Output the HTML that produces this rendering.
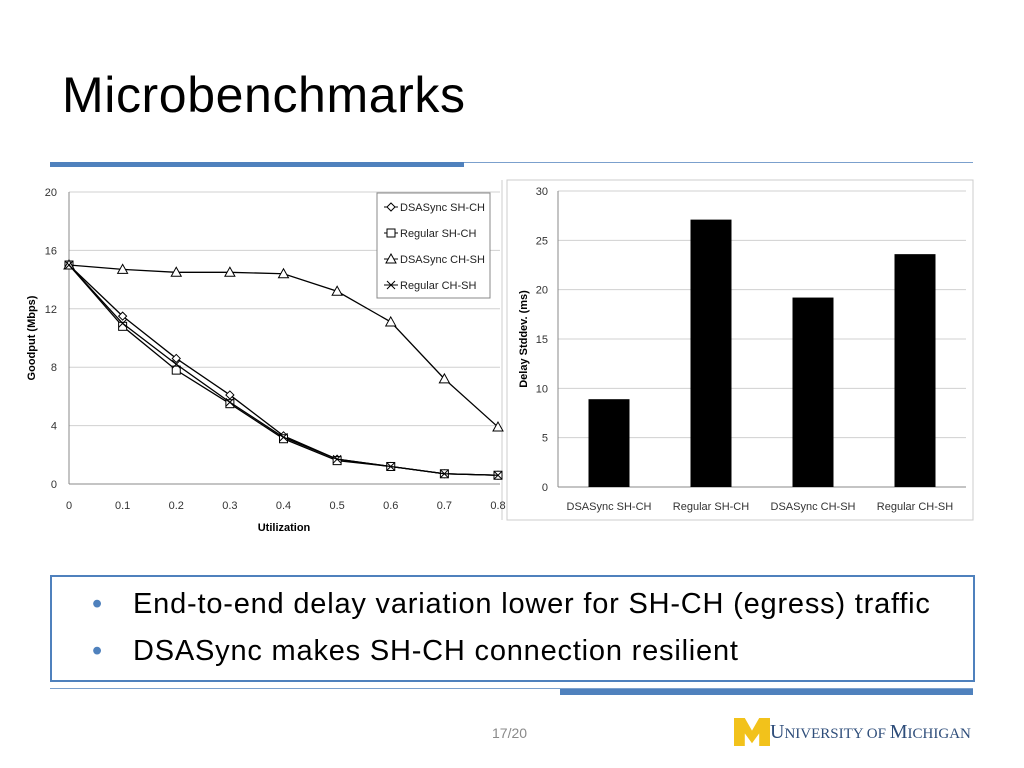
<!DOCTYPE html>
<html><head><meta charset="utf-8"><style>
body{margin:0;width:1024px;height:768px;background:#fff;position:relative;overflow:hidden;font-family:"Liberation Sans",sans-serif}
.abs{position:absolute}
</style></head><body>
<div class="abs" style="left:62px;top:66px;font-size:50px;letter-spacing:0.6px;color:#000">Microbenchmarks</div>
<div class="abs" style="left:50px;top:162px;width:414px;height:5px;background:#4f81bd"></div>
<div class="abs" style="left:464px;top:162px;width:509px;height:1px;background:#7ba0cd"></div>

<svg class="abs" style="left:0;top:0" width="1024" height="768">
<g id="left"></g>
<g id="right"></g>
</svg>

<div class="abs" style="left:50px;top:575px;width:921px;height:103px;border:2px solid #4f81bd;font-size:29px;letter-spacing:0.8px;color:#000">
<div style="position:absolute;left:40px;top:11px"><span style="color:#4f81bd;display:inline-block;width:41px">•</span>End-to-end delay variation lower for SH-CH (egress) traffic</div>
<div style="position:absolute;left:40px;top:58px"><span style="color:#4f81bd;display:inline-block;width:41px">•</span>DSASync makes SH-CH connection resilient</div>
</div>
<div class="abs" style="left:50px;top:688px;width:923px;height:1px;background:#7ba0cd"></div>
<div class="abs" style="left:560px;top:689px;width:413px;height:6px;background:#4f81bd"></div>
<div class="abs" style="left:492px;top:725px;font-size:14px;color:#8a8a8a">17/20</div>
<div class="abs" style="left:734px;top:716px;height:30px;display:flex;align-items:flex-end">
<span style="display:inline-block;width:36px;height:28px;background:#f2c21b;clip-path:polygon(0 0,30% 0,50% 45%,70% 0,100% 0,100% 100%,70% 100%,70% 55%,50% 90%,30% 55%,30% 100%,0 100%)"></span>
<span style="font-family:'Liberation Serif',serif;color:#2e4d7a;font-size:20px;line-height:24px">U<span style="font-size:15px">NIVERSITY OF </span>M<span style="font-size:15px">ICHIGAN</span></span></div>

<script>
const xVals=[0,0.1,0.2,0.3,0.4,0.5,0.6,0.7,0.8];
const xTicks=["0","0.1","0.2","0.3","0.4","0.5","0.6","0.7","0.8"];
const yTicks=[0,4,8,12,16,20];
const dsaShCh=[15,11.5,8.6,6.1,3.3,1.7,1.2,0.7,0.6];
const regShCh=[15,10.8,7.8,5.5,3.1,1.6,1.2,0.7,0.6];
const dsaChSh=[15,14.7,14.5,14.5,14.4,13.2,11.1,7.2,3.9];
const regChSh=[15,11.0,8.2,5.6,3.2,1.7,1.2,0.7,0.6];
const seriesNames=["DSASync SH-CH","Regular SH-CH","DSASync CH-SH","Regular CH-SH"];
const barCats=["DSASync SH-CH","Regular SH-CH","DSASync CH-SH","Regular CH-SH"];
const barVals=[8.9,27.1,19.2,23.6];
const barTicks=[0,5,10,15,20,25,30];

const NS="http://www.w3.org/2000/svg";
function mk(p,t,a,txt){const e=document.createElementNS(NS,t);for(const k in a)e.setAttribute(k,a[k]);if(txt!==undefined)e.textContent=txt;p.appendChild(e);return e;}
const L=document.getElementById('left');
const X=v=>69+v/0.8*429, Y=v=>484-v/20*292;
yTicks.forEach(t=>{
 if(t>0){const g=mk(L,'line',{x1:69,x2:500,y1:Y(t),y2:Y(t),stroke:'#d0d0d0'});}
 const l=mk(L,'text',{x:57,y:Y(t)+4,'font-size':11,'text-anchor':'end',fill:'#333'},t);
 
});
mk(L,'line',{x1:69,x2:69,y1:192,y2:484,stroke:'#888'});
mk(L,'line',{x1:69,x2:500,y1:484,y2:484,stroke:'#888'});
mk(L,'line',{x1:502,x2:502,y1:180,y2:520,stroke:'#ccc'});
xVals.forEach((v,i)=>{const l=mk(L,'text',{x:X(v),y:509,'font-size':11,'text-anchor':'middle',fill:'#333'},xTicks[i]);
 });
let t=mk(L,'text',{x:284,y:531,'font-size':11,'font-weight':'bold','text-anchor':'middle'},'Utilization');

t=mk(L,'text',{x:0,y:0,'font-size':11,'font-weight':'bold','text-anchor':'middle',transform:'translate(35,338) rotate(-90)'},'Goodput (Mbps)');

function marker(g,type,x,y){
 if(type==0)mk(g,'path',{d:`M${x} ${y-4}L${x+4} ${y}L${x} ${y+4}L${x-4} ${y}Z`,fill:'#fff',stroke:'#000'});
 if(type==1)mk(g,'rect',{x:x-4,y:y-4,width:8,height:8,fill:'#fff',stroke:'#000'});
 if(type==2)mk(g,'path',{d:`M${x} ${y-5}L${x+5} ${y+4}L${x-5} ${y+4}Z`,fill:'#fff',stroke:'#000'});
 if(type==3)mk(g,'path',{d:`M${x-4} ${y-4}L${x+4} ${y+4}M${x+4} ${y-4}L${x-4} ${y+4}`,stroke:'#000'});
}
[dsaShCh,regShCh,dsaChSh,regChSh].forEach((s,k)=>{
 const g=mk(L,'g',{});
 mk(g,'polyline',{points:s.map((v,i)=>X(xVals[i])+','+Y(v)).join(' '),fill:'none',stroke:'#000','stroke-width':1.3});
 s.forEach((v,i)=>marker(g,k,X(xVals[i]),Y(v)));
});
const lg=mk(L,'g',{});
mk(lg,'rect',{x:377,y:193,width:113,height:105,fill:'#fff',stroke:'#888'});
seriesNames.forEach((n,k)=>{const y=207+k*26;
 const e=mk(lg,'g',{});
 mk(e,'line',{x1:384,x2:398,y1:y,y2:y,stroke:'#000'});marker(e,k,391,y);
 mk(e,'text',{x:400,y:y+4,'font-size':11,fill:'#222'},n);});

const R=document.getElementById('right');
mk(R,'rect',{x:507,y:180,width:466,height:340,fill:'none',stroke:'#ccc'});
const BY=v=>487-v/30*296, cw=(966-558)/4;
barTicks.forEach(v=>{
 if(v>0){const g=mk(R,'line',{x1:558,x2:966,y1:BY(v),y2:BY(v),stroke:'#d0d0d0'});}
 const l=mk(R,'text',{x:548,y:BY(v)+4,'font-size':11,'text-anchor':'end',fill:'#333'},v);
 });
mk(R,'line',{x1:558,x2:558,y1:191,y2:487,stroke:'#888'});
mk(R,'line',{x1:558,x2:966,y1:487,y2:487,stroke:'#888'});
barCats.forEach((c,i)=>{const cx=558+cw*(i+0.5);
 const b=mk(R,'rect',{x:cx-20.5,y:BY(barVals[i]),width:41,height:487-BY(barVals[i]),fill:'#000'});
 
 const l=mk(R,'text',{x:cx,y:510,'font-size':11,'text-anchor':'middle',fill:'#333'},c);
 });
t=mk(R,'text',{x:0,y:0,'font-size':11,'font-weight':'bold','text-anchor':'middle',transform:'translate(527,339) rotate(-90)'},'Delay Stddev. (ms)');

</script>
</body></html>
